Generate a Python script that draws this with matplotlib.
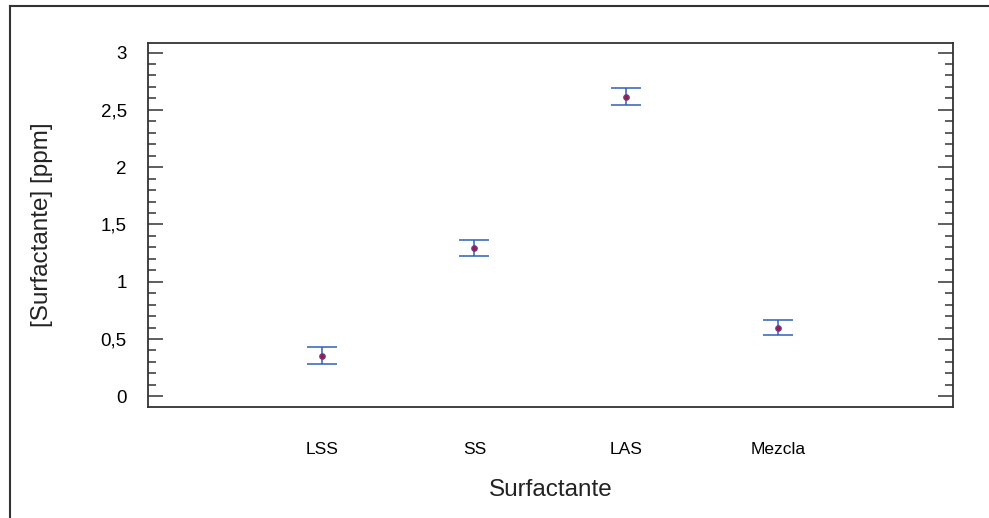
import matplotlib.pyplot as plt
from matplotlib.lines import Line2D
from matplotlib.ticker import MultipleLocator, FuncFormatter

plt.rcParams['font.family'] = ['Liberation Sans', 'DejaVu Sans']

# group means and interval half-widths
categories = ["LSS", "SS", "LAS", "Mezcla"]
means = [0.355, 1.295, 2.615, 0.600]
half_widths = [0.072, 0.073, 0.072, 0.065]

positions = list(range(1, len(categories) + 1))

fig = plt.figure(figsize=(9.89, 5.18), dpi=100)
ax = fig.add_axes([0.1493, 0.2143, 0.8146, 0.7033])

ax.errorbar(positions, means, yerr=half_widths, fmt="none",
            ecolor="#2f5fb8", elinewidth=1.1, capsize=11, capthick=1.1)
ax.plot(positions, means, "o", markersize=4,
        markerfacecolor="#9b1b45", markeredgecolor="#6a3f8f", markeredgewidth=0.8)

ax.set_xlim(-0.15, 5.15)
ax.set_ylim(-0.093, 3.086)
ax.set_xticks(positions)
ax.set_xticklabels(categories)
ax.yaxis.set_major_locator(MultipleLocator(0.5))
ax.yaxis.set_minor_locator(MultipleLocator(0.1))
ax.yaxis.set_major_formatter(FuncFormatter(lambda v, _: f"{v:g}".replace(".", ",")))

for s in ax.spines.values():
    s.set_linewidth(1.3)
    s.set_color("#333333")

ax.tick_params(axis="y", which="both", direction="in", left=True, right=True,
               color="#333333", width=1.1, labelsize=13.5, pad=15)
ax.tick_params(axis="y", which="major", length=11)
ax.tick_params(axis="y", which="minor", length=6)
ax.tick_params(axis="x", length=0, labelsize=12.5, pad=25)

ax.set_xlabel("Surfactante", fontsize=17.5, labelpad=16, color="#222222")
ax.set_ylabel("[Surfactante] [ppm]", fontsize=17.5, labelpad=34, color="#222222")

# outer frame (top and left edges)
fig.add_artist(Line2D([10 / 989, 1.0], [1 - 5.5 / 518, 1 - 5.5 / 518],
                      transform=fig.transFigure, color="#333333", linewidth=1.5))
fig.add_artist(Line2D([10 / 989, 10 / 989], [0.0, 1 - 5.5 / 518],
                      transform=fig.transFigure, color="#333333", linewidth=1.5))

fig.savefig("out.png", dpi=100)
